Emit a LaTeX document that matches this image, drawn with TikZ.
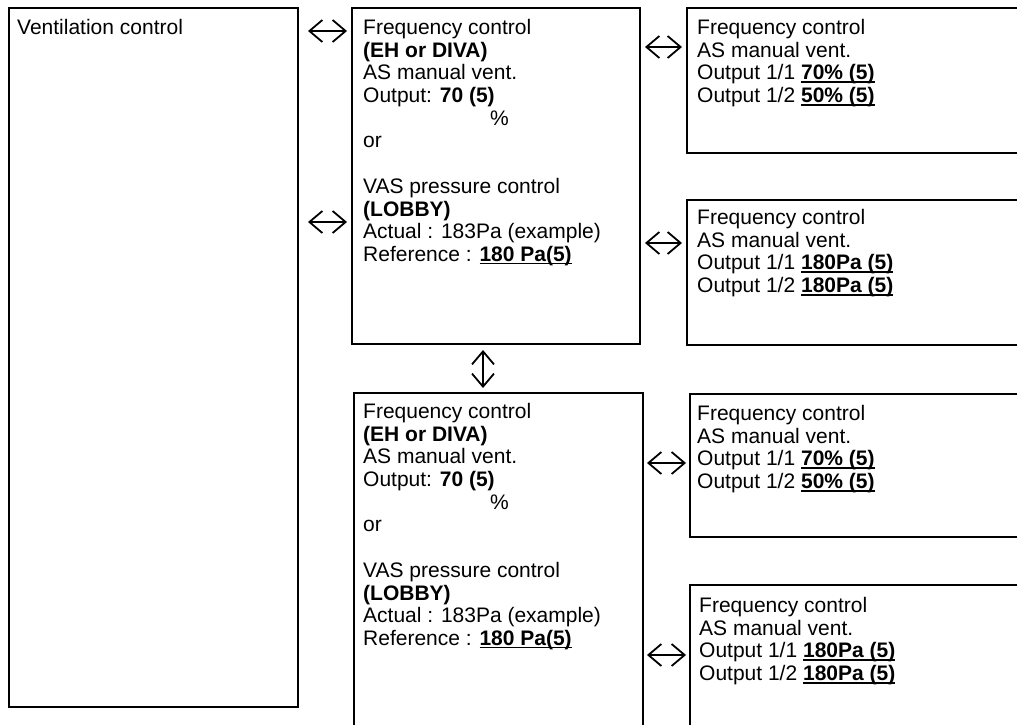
\documentclass[tikz,border=0pt]{standalone}
\usepackage{fontspec}
\setmainfont{Liberation Sans}
\usetikzlibrary{arrows.meta}
\newcommand{\uln}[1]{\setbox0\hbox{#1}\rlap{\rule[-3pt]{\wd0}{1.4pt}}\box0}
\begin{document}
\begin{tikzpicture}[x=1pt,y=-1pt,
  box/.style={draw, line width=2pt, anchor=north west, inner sep=0pt},
  txt/.style={anchor=north west, inner sep=0pt, align=left, font=\fontsize{21}{22.7}\selectfont},
  biarrow/.style={line width=1.8pt, {Straight Barb[length=13pt,width=22pt]}-{Straight Barb[length=13pt,width=22pt]}}]
\useasboundingbox (0,0) rectangle (1017,725);
\clip (0,0) rectangle (1017,725);
% boxes
\node[box, minimum width=289pt, minimum height=699pt] (vc) at (8,7) {};
\node[box, minimum width=288pt, minimum height=336pt] (A) at (351,7) {};
\node[box, minimum width=360pt, minimum height=145pt] (R1) at (686,7) {};
\node[box, minimum width=360pt, minimum height=145pt] (R2) at (686,199) {};
\node[box, minimum width=289pt, minimum height=360pt] (B) at (353,392) {};
\node[box, minimum width=360pt, minimum height=143pt] (R3) at (689,393) {};
\node[box, minimum width=360pt, minimum height=160pt] (R4) at (689,584) {};
% texts
\node[txt] (tvc) at (17,19) {Ventilation control};
\node[txt] (tA) at (363,19) {Frequency control\\
\textbf{(EH or DIVA)}\\
AS manual vent.\\
Output: \textbf{70 (5)}\\
\hspace*{127pt}\%\\
or\\[22.7pt]
VAS pressure control\\
\textbf{(LOBBY)}\\
Actual : 183Pa (example)\\
Reference : \textbf{\uln{180 Pa(5)}}};
\node[txt] (tR1) at (697,19) {Frequency control\\
AS manual vent.\\
Output 1/1 \textbf{\uln{70\% (5)}}\\
Output 1/2 \textbf{\uln{50\% (5)}}};
\node[txt] (tR2) at (697,209) {Frequency control\\
AS manual vent.\\
Output 1/1 \textbf{\uln{180Pa (5)}}\\
Output 1/2 \textbf{\uln{180Pa (5)}}};
\node[txt] (tB) at (363,403) {Frequency control\\
\textbf{(EH or DIVA)}\\
AS manual vent.\\
Output: \textbf{70 (5)}\\
\hspace*{127pt}\%\\
or\\[22.7pt]
VAS pressure control\\
\textbf{(LOBBY)}\\
Actual : 183Pa (example)\\
Reference : \textbf{\uln{180 Pa(5)}}};
\node[txt] (tR3) at (697,405) {Frequency control\\
AS manual vent.\\
Output 1/1 \textbf{\uln{70\% (5)}}\\
Output 1/2 \textbf{\uln{50\% (5)}}};
\node[txt] (tR4) at (699,597) {Frequency control\\
AS manual vent.\\
Output 1/1 \textbf{\uln{180Pa (5)}}\\
Output 1/2 \textbf{\uln{180Pa (5)}}};
% arrow levels
\coordinate (y1) at (0,31);
\coordinate (y2) at (0,222);
\coordinate (y3) at (0,47);
\coordinate (y4) at (0,243);
\coordinate (y5) at (0,463);
\coordinate (y6) at (0,655);
\coordinate (xv) at (483,0);
\draw[biarrow, shorten <=9pt, shorten >=4pt] (vc.east |- y1) -- (A.west |- y1);
\draw[biarrow, shorten <=9pt, shorten >=4pt] (vc.east |- y2) -- (A.west |- y2);
\draw[biarrow, shorten <=4pt, shorten >=4pt] (A.east |- y3) -- (R1.west |- y3);
\draw[biarrow, shorten <=4pt, shorten >=4pt] (A.east |- y4) -- (R2.west |- y4);
\draw[biarrow, shorten <=3pt, shorten >=3pt] (B.east |- y5) -- (R3.west |- y5);
\draw[biarrow, shorten <=3pt, shorten >=3pt] (B.east |- y6) -- (R4.west |- y6);
\draw[biarrow, shorten <=5pt, shorten >=4pt] (A.south -| xv) -- (B.north -| xv);
\end{tikzpicture}
\end{document}
